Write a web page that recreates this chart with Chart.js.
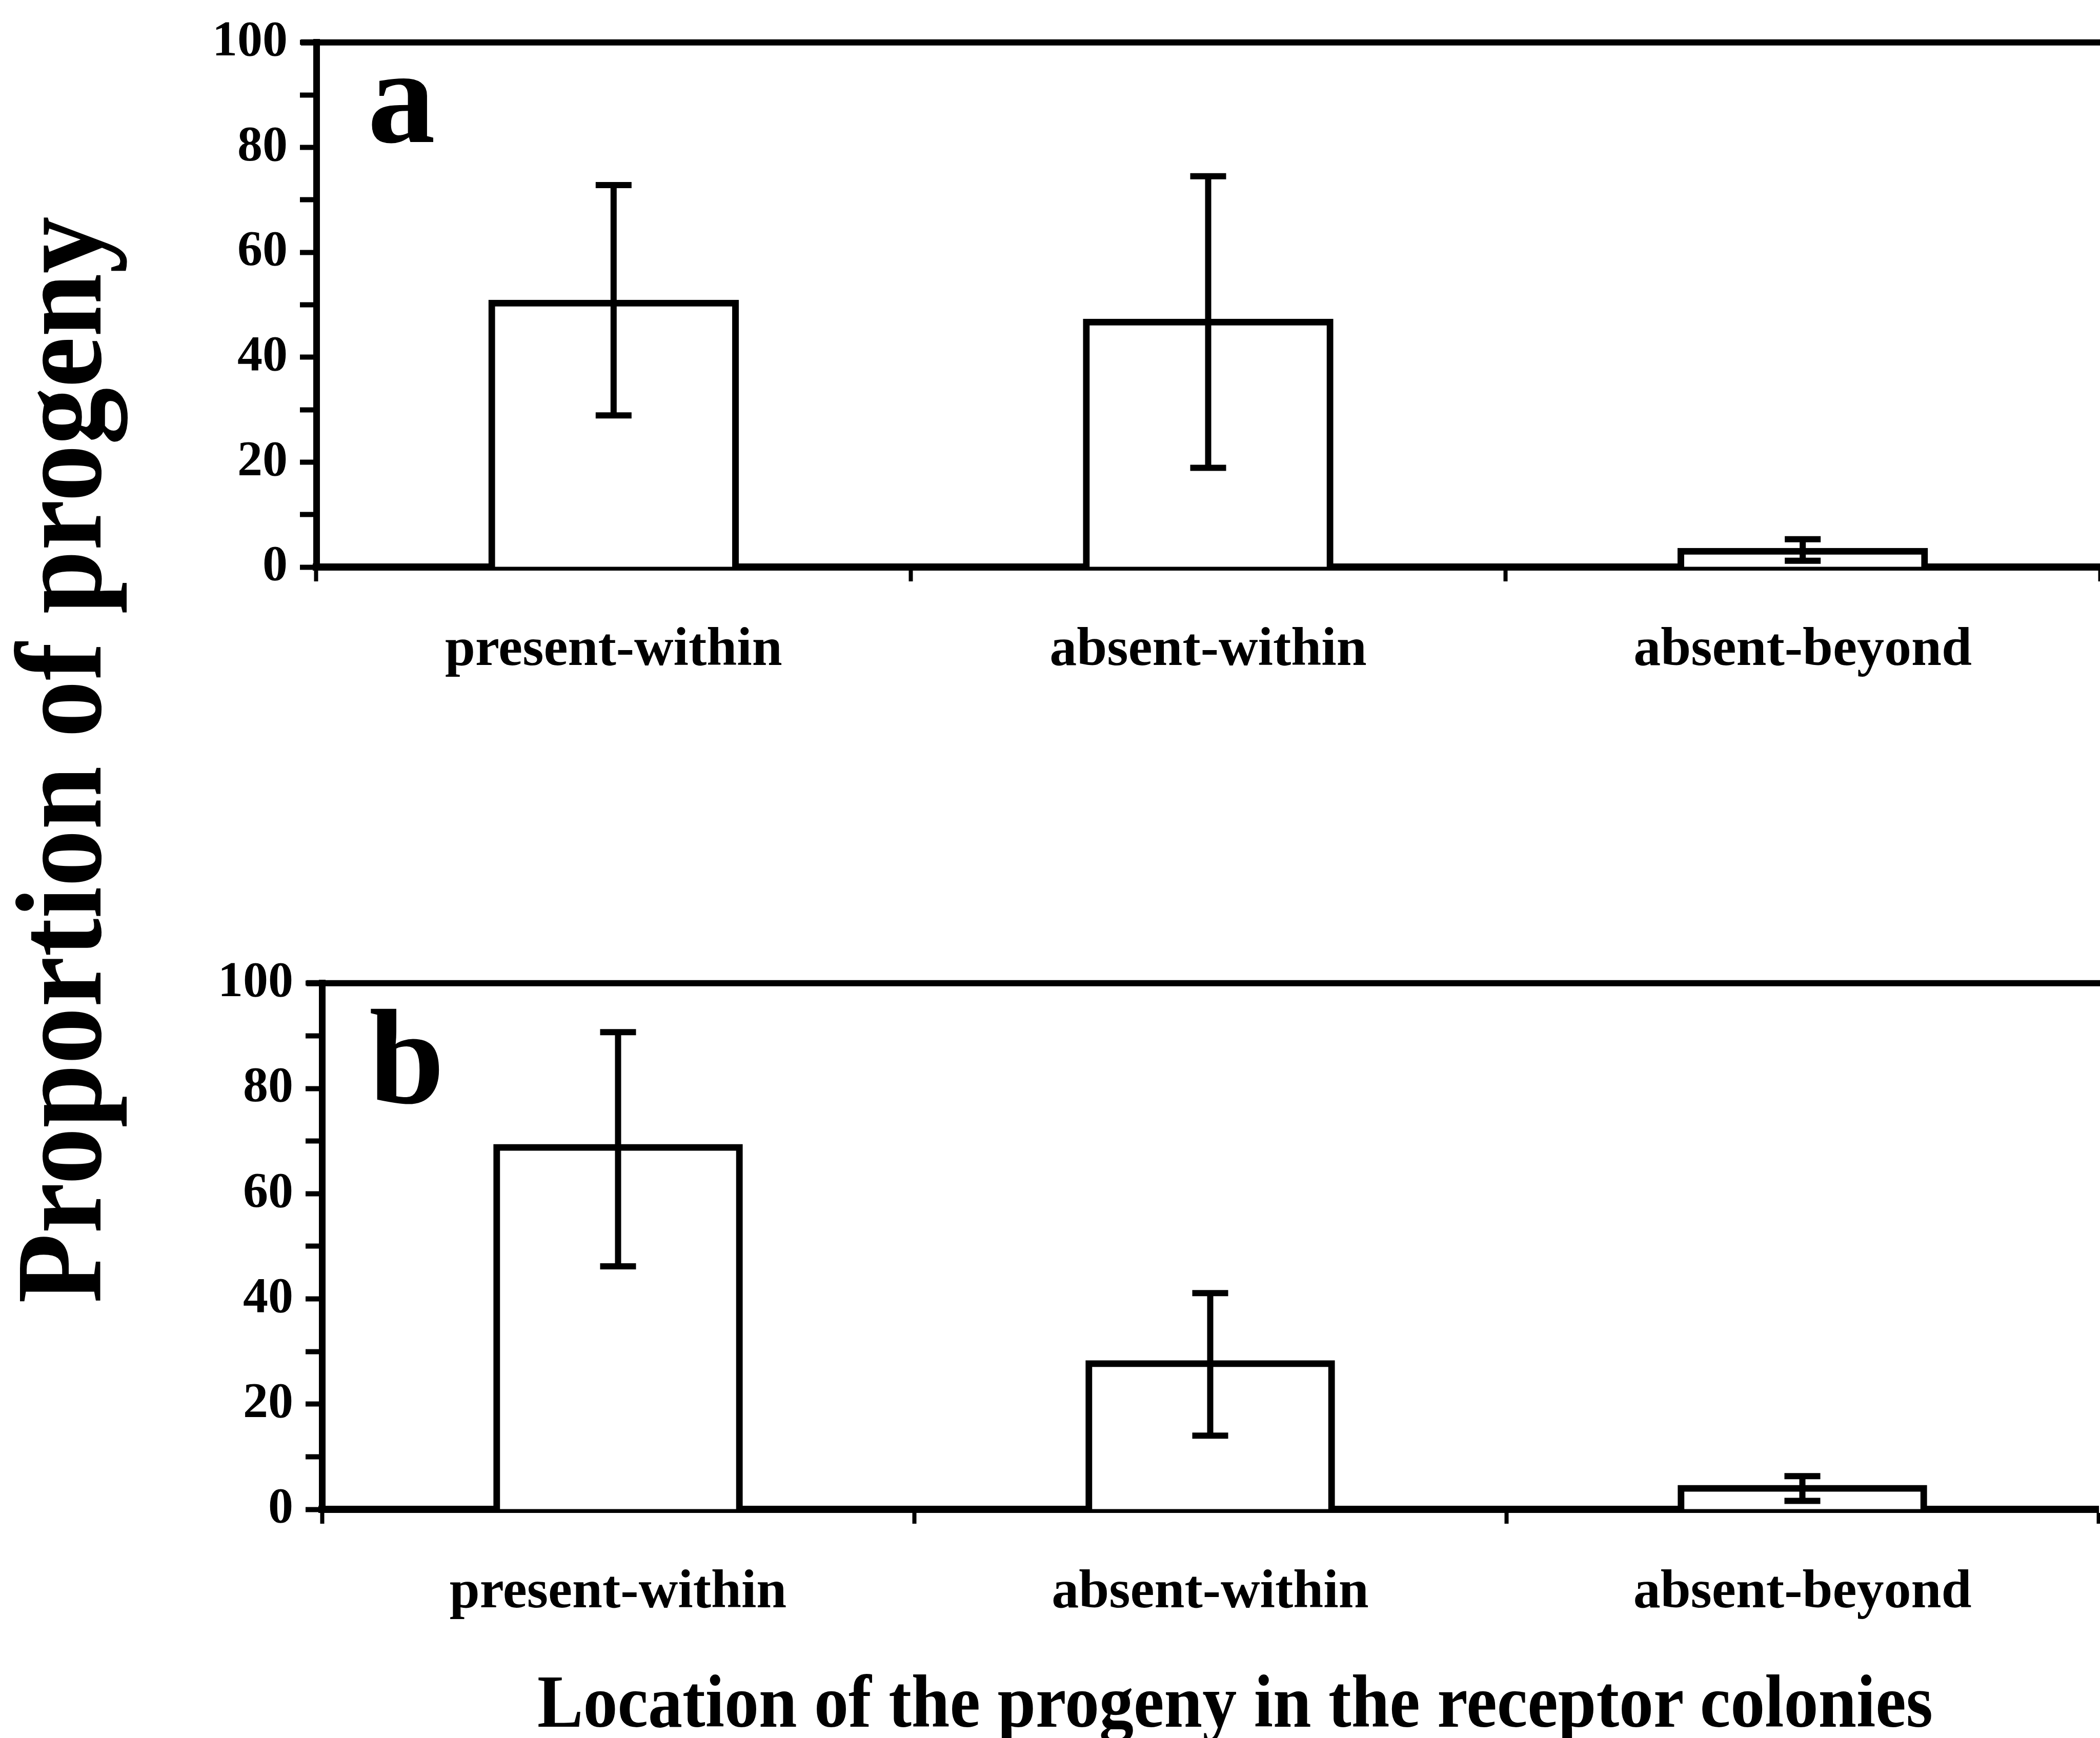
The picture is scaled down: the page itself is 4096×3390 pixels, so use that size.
<!DOCTYPE html>
<html lang="en">
  <head>
    <meta charset="utf-8" />
    <title>Proportion of progeny</title>
    <script src="https://cdn.jsdelivr.net/npm/chart.js@4.4.1/dist/chart.umd.min.js"></script>
    <style>
      * {
        margin: 0;
        padding: 0;
        box-sizing: border-box;
      }
      body {
        width: 4096px;
        height: 3390px;
        background: #fff;
        position: relative;
        overflow: hidden;
        font-family: "Liberation Serif", serif;
        font-weight: bold;
        color: #000;
      }
      canvas {
        position: absolute;
        left: 0;
      }
      #chart-a {
        top: 0;
      }
      #chart-b {
        top: 1835px;
      }
      .label {
        position: absolute;
        line-height: 1;
        white-space: nowrap;
      }
      .panel-letter {
        font-size: 264px;
      }
      #y-title {
        font-size: 240px;
        left: 115px;
        top: 1482px;
        transform: translate(-50%, -50%) rotate(-90deg) scaleX(0.928);
      }
      #x-title {
        font-size: 147px;
        left: 2409px;
        top: 3245px;
        transform: translateX(-50%) scaleX(0.912);
      }
    </style>
  </head>
  <body>
    <canvas id="chart-a" width="4096" height="1500"></canvas>
    <canvas id="chart-b" width="4096" height="1500"></canvas>
    <div class="label panel-letter" style="left: 717px; top: 56px">a</div>
    <div class="label panel-letter" style="left: 720px; top: 1930px">b</div>
    <div class="label" id="y-title">Proportion of progeny</div>
    <div class="label" id="x-title">Location of the progeny in the receptor colonies</div>

    <script>
      const categories = ["present-within", "absent-within", "absent-beyond"];
      const yTickLabels = [0, 20, 40, 60, 80, 100];

      // panel a: mean and error bar ends
      const meansA = [50.3, 46.7, 3.0];
      const lowA = [28.9, 18.9, 1.2];
      const highA = [72.8, 74.5, 5.3];

      // panel b
      const meansB = [68.8, 27.7, 4.0];
      const lowB = [46.2, 14.0, 1.6];
      const highB = [90.7, 41.1, 6.3];

      const serif = "'Liberation Serif', serif";

      // error bars + frame top line
      const errorBars = {
        id: "errorBars",
        afterDatasetsDraw(chart, args, opts) {
          const { ctx, chartArea } = chart;
          const y = chart.scales.y;
          const meta = chart.getDatasetMeta(0);
          ctx.save();
          ctx.strokeStyle = "#000";
          ctx.lineCap = "butt";
          ctx.lineWidth = 12;
          ctx.beginPath();
          ctx.moveTo(chartArea.left - 30, chartArea.top);
          ctx.lineTo(chartArea.right + 10, chartArea.top);
          ctx.stroke();

          const cap = 35;
          meta.data.forEach((bar, i) => {
            const top = y.getPixelForValue(opts.high[i]);
            const bottom = y.getPixelForValue(opts.low[i]);
            ctx.beginPath();
            ctx.moveTo(bar.x, top);
            ctx.lineTo(bar.x, bottom);
            ctx.moveTo(bar.x - cap, top);
            ctx.lineTo(bar.x + cap, top);
            ctx.moveTo(bar.x - cap, bottom);
            ctx.lineTo(bar.x + cap, bottom);
            ctx.stroke();
          });
          ctx.restore();
        },
      };

      function makePanel(id, means, low, high, box) {
        const canvas = document.getElementById(id);
        return new Chart(canvas, {
          type: "bar",
          plugins: [errorBars],
          data: {
            labels: categories,
            datasets: [
              {
                data: means,
                backgroundColor: "#fff",
                borderColor: "#000",
                borderWidth: 13,
                borderSkipped: "bottom",
                // push the outline outwards so it is centred on the value
                inflateAmount: 6.5,
                categoryPercentage: 1,
                barPercentage: 0.41,
              },
            ],
          },
          options: {
            responsive: false,
            animation: false,
            layout: { padding: { top: box.top, right: box.right, left: 0, bottom: 0 } },
            plugins: {
              legend: { display: false },
              tooltip: { enabled: false },
              errorBars: { low: low, high: high },
            },
            scales: {
              x: {
                z: 1,
                offset: true,
                grid: {
                  offset: true,
                  drawOnChartArea: false,
                  drawTicks: true,
                  tickLength: 28,
                  tickWidth: 8,
                  tickColor: "#000",
                },
                border: { display: true, color: "#000", width: 14 },
                ticks: {
                  color: "#000",
                  padding: 72,
                  maxRotation: 0,
                  autoSkip: false,
                  font: { family: serif, size: 106, weight: "bold" },
                },
                afterFit: (s) => {
                  s.height = canvas.height - box.bottom;
                },
              },
              y: {
                min: 0,
                max: 100,
                grid: {
                  drawOnChartArea: false,
                  drawTicks: true,
                  tickLength: 32,
                  tickWidth: 10,
                  tickColor: "#000",
                },
                border: { display: true, color: "#000", width: 13 },
                ticks: {
                  stepSize: 10,
                  autoSkip: false,
                  color: "#000",
                  padding: 24,
                  font: { family: serif, size: 98, weight: "bold" },
                  callback: (v) => (yTickLabels.includes(v) ? v : ""),
                },
                afterFit: (s) => {
                  s.width = box.left;
                },
              },
            },
          },
        });
      }

      makePanel("chart-a", meansA, lowA, highA, { left: 617, right: 0, top: 80, bottom: 1106 });
      makePanel("chart-b", meansB, lowB, highB, { left: 628, right: 3, top: 80, bottom: 1109 });
    </script>
  </body>
</html>
